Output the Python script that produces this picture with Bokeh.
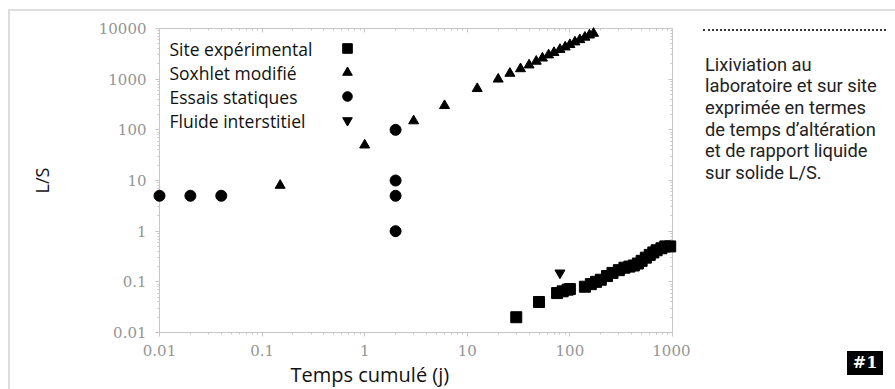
import math
from bokeh.plotting import figure
from bokeh.models import (FixedTicker, CustomJSTickFormatter, LogAxis, Label, Legend,
                          LegendItem, Range1d, Title, Div)
from bokeh.layouts import row
from bokeh.embed import file_html
from bokeh.resources import INLINE

# ---------------- data ----------------
site_x = [30, 50, 75, 85, 95, 100, 140, 160, 180, 200, 230, 260, 300, 340, 380, 420,
          460, 500, 550, 600, 650, 700, 780, 850, 950]
site_y = [0.02, 0.04, 0.06, 0.065, 0.07, 0.072, 0.08, 0.09, 0.1, 0.11, 0.13, 0.15, 0.17,
          0.19, 0.2, 0.21, 0.23, 0.26, 0.3, 0.34, 0.38, 0.42, 0.46, 0.5, 0.5]
sox_x = [0.15, 1, 3, 6, 12.5, 20, 26, 33, 40, 47, 54, 62, 70, 80, 90, 100, 112, 125,
         140, 155, 170]
sox_y = [8, 50, 150, 300, 650, 1000, 1300, 1600, 1900, 2250, 2600, 3000, 3350, 3850,
         4300, 4800, 5400, 6000, 6700, 7400, 8000]
stat_x = [0.01, 0.02, 0.04, 2, 2, 2, 2]
stat_y = [5, 5, 5, 100, 10, 5, 1]
fluid_x = [80]
fluid_y = [0.15]

series_names = ["Site expérimental", "Soxhlet modifié", "Essais statiques", "Fluide interstitiel"]
x_ticks = [0.01, 0.1, 1, 10, 100, 1000]
y_ticks = [0.01, 0.1, 1, 10, 100, 1000, 10000]
x_label = "Temps cumulé (j)"
y_label = "L/S"
caption_lines = ["Lixiviation au", "laboratoire et sur site", "exprimée en termes",
                 "de temps d\u2019altération", "et de rapport liquide", "sur solide L/S."]
badge = "#1"

AXC = "#c6c6c6"
LBLC = "#959595"


def minor(lo, hi):
    out = []
    for k in range(lo, hi):
        for m in range(2, 10):
            out.append(m * 10 ** k)
    return out


p = figure(width=680, height=378, x_axis_type="log", y_axis_type="log",
           x_range=Range1d(0.01, 1000), y_range=Range1d(0.01, 10000), title=None,
           output_backend="svg", toolbar_location=None,
           min_border_left=149, min_border_right=18, min_border_top=17, min_border_bottom=57)
p.grid.visible = False
p.outline_line_color = None

xt = FixedTicker(ticks=x_ticks, minor_ticks=minor(-2, 3))
yt = FixedTicker(ticks=y_ticks, minor_ticks=minor(-2, 4))
fmt = CustomJSTickFormatter(code="return tick.toString();")
blank = CustomJSTickFormatter(code="return '';")

p.xaxis[0].ticker = xt
p.yaxis[0].ticker = yt
for ax in (p.xaxis[0], p.yaxis[0]):
    ax.formatter = fmt
    ax.axis_line_color = AXC
    ax.major_tick_line_color = AXC
    ax.minor_tick_line_color = AXC
    ax.major_tick_in = 0
    ax.major_tick_out = 4
    ax.minor_tick_in = 0
    ax.minor_tick_out = 2
    ax.major_label_text_font = "DejaVu Serif"
    ax.major_label_text_font_size = "15px"
    ax.major_label_text_color = LBLC
p.yaxis[0].major_label_standoff = 9
p.xaxis[0].major_label_standoff = 8
p.yaxis[0].axis_label = y_label
p.yaxis[0].axis_label_standoff = 42
p.yaxis[0].axis_label_text_font = "Open Sans"
p.yaxis[0].axis_label_text_font_style = "normal"
p.yaxis[0].axis_label_text_font_size = "18px"
p.yaxis[0].axis_label_text_color = "#111111"

top_ax = LogAxis(ticker=xt, formatter=blank)
right_ax = LogAxis(ticker=yt, formatter=blank)
for ax in (top_ax, right_ax):
    ax.axis_line_color = AXC
    ax.major_tick_line_color = AXC
    ax.minor_tick_line_color = AXC
    ax.major_tick_in = 4
    ax.major_tick_out = 0
    ax.minor_tick_in = 2
    ax.minor_tick_out = 0
    ax.major_label_standoff = 0
p.add_layout(top_ax, "above")
p.add_layout(right_ax, "right")

p.add_layout(Title(text=x_label, align="left", offset=131, standoff=0,
                   text_font="Open Sans", text_font_size="20px", text_font_style="normal",
                   text_color="#111111"), "below")

r_site = p.scatter(site_x, site_y, marker="square", size=11, color="black", level="overlay")
r_sox = p.scatter(sox_x, sox_y, marker="triangle", size=10, color="black", level="overlay")
r_stat = p.scatter(stat_x, stat_y, marker="circle", size=11, color="black", level="overlay")
r_fluid = p.scatter(fluid_x, fluid_y, marker="inverted_triangle", size=10, color="black",
                    level="overlay")

legend = Legend(items=[LegendItem(label=" ", renderers=[r]) for r in
                       (r_site, r_sox, r_stat, r_fluid)],
                location=(173, 200), glyph_width=30, glyph_height=24, label_height=20,
                spacing=0, padding=0, margin=0, label_standoff=0,
                border_line_color=None, background_fill_alpha=0,
                label_text_font_size="10px")
p.add_layout(legend)

for i, name in enumerate(series_names):
    p.add_layout(Label(x=10, y=284 - 24 * i, x_units="screen", y_units="screen",
                       text=name, text_baseline="middle", text_font="Open Sans",
                       text_font_size="17.5px", text_color="#111111"))

# ---------------- side panel ----------------
line_style = ("display:block;font-family:Roboto;font-size:18.3px;"
              "line-height:21.7px;height:21.7px;color:#222222;white-space:nowrap;")
caption_html = "".join(f'<span style="{line_style}">{t}</span>' for t in caption_lines)
side_html = (
    '<div style="position:relative;width:192px;height:366px;">'
    '<div style="position:absolute;left:8px;top:13px;width:183px;height:0;'
    'border-top:2px dotted #3a3a3a;"></div>'
    '<div style="position:absolute;left:10px;top:37.5px;">' + caption_html + '</div>'
    '<div style="position:absolute;left:152px;top:335px;width:36px;height:24px;'
    'background:#000000;color:#ffffff;font-family:\'DejaVu Serif\';'
    'font-weight:bold;font-size:16px;line-height:24px;text-align:center;">'
    + badge + '</div>'
    '</div>'
)
side = Div(text=side_html, width=197, height=370)

layout = row(p, side, styles={"border-top": "2px solid #dddddd",
                              "border-left": "2px solid #dddddd",
                              "margin-top": "9px", "margin-left": "8px"})

open("out.html", "w").write(file_html(layout, INLINE))
